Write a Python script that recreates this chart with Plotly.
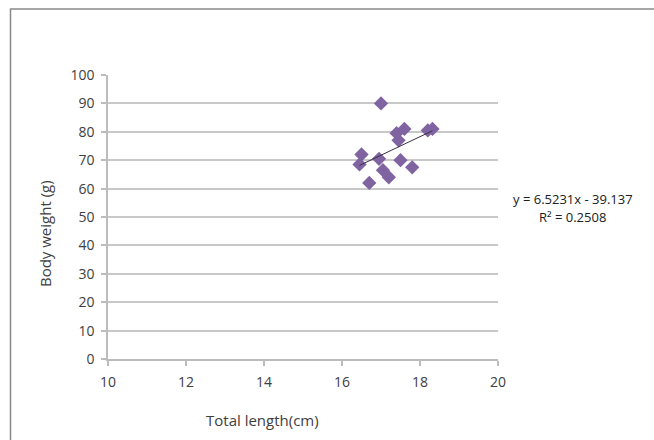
import plotly.graph_objects as go

# Data
total_length = [17.0, 16.5, 16.45, 16.95, 17.05, 17.2, 16.7, 17.5, 17.8, 17.4, 17.6, 17.45, 18.2, 18.32]
body_weight = [90.0, 72.0, 68.5, 70.5, 66.5, 64.0, 62.0, 70.0, 67.5, 79.5, 81.0, 77.0, 80.5, 81.0]

slope = 6.5231
intercept = -39.137
r_squared = 0.2508

x_ticks = [10, 12, 14, 16, 18, 20]
y_ticks = [0, 10, 20, 30, 40, 50, 60, 70, 80, 90, 100]

trend_x = [min(total_length), max(total_length)]
trend_y = [slope * v + intercept for v in trend_x]

FONT = "Open Sans"
TXT = "#404040"

fig = go.Figure()
fig.add_trace(go.Scatter(
    x=total_length, y=body_weight, mode="markers",
    marker=dict(symbol="diamond", size=11, color="#8064A2",
                line=dict(width=0)),
    showlegend=False, hoverinfo="skip"))
fig.add_trace(go.Scatter(
    x=trend_x, y=trend_y, mode="lines",
    line=dict(color="#3a3046", width=1),
    showlegend=False, hoverinfo="skip"))

fig.update_layout(
    width=654, height=440,
    margin=dict(l=108, r=156, t=75, b=81),
    paper_bgcolor="white", plot_bgcolor="white",
    font=dict(family=FONT, size=13, color=TXT),
    xaxis=dict(range=[10, 20], tickvals=x_ticks, showgrid=False,
               zeroline=False, showline=True, linecolor="#bcbcbc", linewidth=1.5,
               ticks="outside", ticklen=5, tickcolor="#bcbcbc", tickwidth=1.5,
               tickfont=dict(family=FONT, size=14, color=TXT),
               ticklabelstandoff=4, fixedrange=True),
    yaxis=dict(range=[0, 100], tickvals=y_ticks, showgrid=True,
               gridcolor="#c8c8c8", gridwidth=1.5,
               zeroline=False, showline=True, linecolor="#bcbcbc", linewidth=1.5,
               ticks="outside", ticklen=5, tickcolor="#bcbcbc", tickwidth=1.5,
               tickfont=dict(family=FONT, size=14, color=TXT),
               ticklabelstandoff=4, fixedrange=True),
    shapes=[dict(type="rect", xref="paper", yref="paper",
                 x0=-0.25, x1=1.6, y0=-0.45, y1=1.232,
                 line=dict(color="#8a8a8a", width=1.5), fillcolor="rgba(0,0,0,0)",
                 layer="below")],
    annotations=[
        dict(text="Body weight (g)", xref="paper", yref="paper",
             x=-0.1615, y=0.44, textangle=-90, showarrow=False,
             xanchor="center", yanchor="middle",
             font=dict(family=FONT, size=15, color=TXT)),
        dict(text="Total length(cm)", xref="paper", yref="paper",
             x=0.397, y=-0.215, showarrow=False,
             xanchor="center", yanchor="middle",
             font=dict(family=FONT, size=15, color=TXT)),
        dict(text=f"y = {slope}x - {abs(intercept)}", xref="paper", yref="paper",
             x=1.192, y=0.563, showarrow=False, xanchor="center", yanchor="middle",
             font=dict(family=FONT, size=13, color="#202020")),
        dict(text=f"R² = {r_squared}", xref="paper", yref="paper",
             x=1.192, y=0.5, showarrow=False, xanchor="center", yanchor="middle",
             font=dict(family=FONT, size=13, color="#202020")),
    ],
)

fig.write_html("out.html")
